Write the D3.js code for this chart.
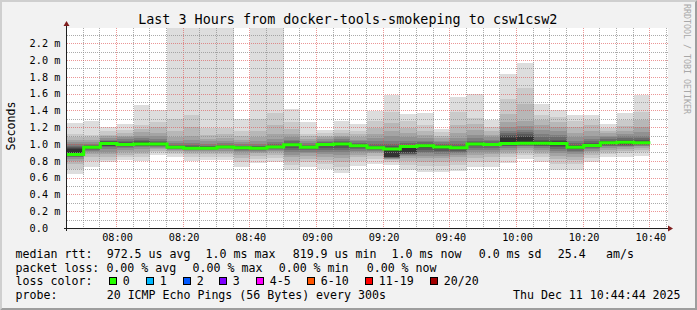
<!DOCTYPE html>
<html><head><meta charset="utf-8">
<script src="https://cdn.jsdelivr.net/npm/d3@7"></script>
<style>
html,body{margin:0;padding:0;background:#f2f2f2;}
svg{display:block;}
text{font-family:"DejaVu Sans Mono",monospace;fill:#000;}
</style>
</head><body>
<svg id="c" width="697" height="310"></svg>
<script>
// ---------------- data ----------------
const title = "Last 3 Hours from docker-tools-smokeping to csw1csw2";
const timeWindow = ["07:45", "10:45"];
const stepMinutes = 5;
const binTimes = ["07:45","07:50","07:55","08:00","08:05","08:10","08:15","08:20","08:25","08:30",
  "08:35","08:40","08:45","08:50","08:55","09:00","09:05","09:10","09:15","09:20",
  "09:25","09:30","09:35","09:40","09:45","09:50","09:55","10:00","10:05","10:10",
  "10:15","10:20","10:25","10:30","10:35"];
// median rtt (ms) per 5-minute bin
const medians = [0.876,0.96,1.005,0.995,1.0,1.0,0.96,0.95,0.95,0.963,0.955,0.95,0.963,0.99,0.96,0.995,1.0,0.98,0.955,0.94,
  0.97,0.98,0.963,0.955,1.0,0.995,1.007,1.01,1.01,1.007,0.96,0.983,1.015,1.02,1.015];
// 20 sorted ping rtts (ms) per bin
const pings = [
  [0.64,0.70,0.76,0.80,0.82,0.84,0.85,0.86,0.87,0.875,0.94,0.95,0.96,0.98,1.00,1.02,1.05,1.08,1.12,1.25],
  [0.72,0.80,0.84,0.88,0.90,0.92,0.93,0.94,0.95,0.955,0.965,0.97,0.98,0.99,1.00,1.02,1.05,1.08,1.11,1.27],
  [0.78,0.81,0.85,0.88,0.91,0.94,0.96,0.97,0.98,0.99,1.01,1.02,1.03,1.04,1.05,1.07,1.09,1.11,1.15,1.20],
  [0.81,0.84,0.87,0.90,0.93,0.95,0.96,0.97,0.98,0.99,1.00,1.01,1.02,1.04,1.06,1.08,1.10,1.13,1.17,1.24],
  [0.80,0.84,0.88,0.91,0.94,0.96,0.97,0.98,0.99,0.995,1.005,1.02,1.03,1.05,1.07,1.10,1.14,1.18,1.23,1.46],
  [0.87,0.90,0.92,0.94,0.95,0.96,0.97,0.98,0.99,0.995,1.005,1.01,1.02,1.04,1.06,1.09,1.13,1.20,1.26,1.41],
  [0.85,0.88,0.90,0.92,0.93,0.94,0.945,0.95,0.955,0.96,0.965,0.97,0.98,0.99,1.01,1.04,1.08,1.15,1.30,2.50],
  [0.80,0.85,0.88,0.90,0.92,0.93,0.94,0.945,0.95,0.95,0.955,0.96,0.97,0.99,1.01,1.05,1.10,1.20,1.35,2.50],
  [0.81,0.85,0.88,0.90,0.92,0.93,0.94,0.945,0.95,0.95,0.955,0.96,0.97,0.98,1.00,1.03,1.06,1.11,1.19,2.50],
  [0.81,0.85,0.88,0.90,0.92,0.94,0.95,0.955,0.96,0.96,0.965,0.97,0.98,0.99,1.01,1.04,1.07,1.12,1.19,2.50],
  [0.72,0.78,0.83,0.87,0.90,0.92,0.93,0.94,0.95,0.955,0.96,0.965,0.97,0.98,1.00,1.02,1.05,1.09,1.15,1.30],
  [0.77,0.82,0.86,0.89,0.91,0.92,0.93,0.94,0.945,0.95,0.955,0.96,0.97,0.98,1.00,1.03,1.08,1.16,1.30,2.50],
  [0.78,0.83,0.87,0.90,0.92,0.93,0.94,0.95,0.955,0.96,0.965,0.97,0.98,1.00,1.02,1.06,1.12,1.22,1.37,2.50],
  [0.69,0.75,0.80,0.84,0.87,0.90,0.93,0.95,0.97,0.985,0.995,1.00,1.01,1.03,1.05,1.08,1.12,1.18,1.26,1.42],
  [0.72,0.78,0.82,0.86,0.89,0.91,0.93,0.94,0.95,0.955,0.965,0.97,0.98,0.99,1.01,1.03,1.06,1.09,1.12,1.26],
  [0.70,0.76,0.81,0.85,0.88,0.91,0.93,0.95,0.97,0.985,1.00,1.005,1.01,1.02,1.04,1.06,1.08,1.10,1.13,1.17],
  [0.65,0.72,0.78,0.83,0.87,0.90,0.93,0.95,0.97,0.99,1.005,1.01,1.02,1.04,1.06,1.08,1.10,1.13,1.17,1.27],
  [0.74,0.80,0.84,0.87,0.90,0.92,0.94,0.95,0.96,0.975,0.985,0.99,1.00,1.01,1.03,1.05,1.08,1.12,1.16,1.24],
  [0.76,0.82,0.86,0.89,0.91,0.92,0.93,0.94,0.945,0.95,0.96,0.965,0.98,1.00,1.03,1.07,1.12,1.19,1.27,1.39],
  [0.75,0.79,0.81,0.82,0.825,0.83,0.835,0.84,0.845,0.85,0.935,0.95,0.97,1.00,1.04,1.09,1.15,1.25,1.38,1.58],
  [0.69,0.75,0.80,0.83,0.86,0.87,0.88,0.885,0.89,0.90,0.965,0.98,0.99,1.01,1.04,1.08,1.13,1.19,1.27,1.36],
  [0.67,0.74,0.79,0.83,0.86,0.89,0.91,0.93,0.95,0.97,0.985,0.99,1.00,1.02,1.04,1.07,1.11,1.16,1.23,1.37],
  [0.67,0.74,0.79,0.83,0.86,0.88,0.90,0.92,0.94,0.955,0.97,0.975,0.99,1.00,1.02,1.04,1.07,1.10,1.14,1.18],
  [0.68,0.75,0.80,0.84,0.87,0.89,0.91,0.92,0.935,0.945,0.96,0.965,0.98,1.00,1.03,1.07,1.13,1.22,1.38,1.56],
  [0.72,0.78,0.83,0.87,0.90,0.93,0.95,0.97,0.985,0.995,1.005,1.01,1.02,1.04,1.07,1.11,1.17,1.24,1.31,1.60],
  [0.73,0.79,0.84,0.88,0.91,0.93,0.95,0.97,0.98,0.99,1.00,1.005,1.01,1.03,1.05,1.08,1.11,1.15,1.20,1.28],
  [0.77,0.84,0.88,0.91,0.93,0.95,0.97,0.98,0.99,1.00,1.07,1.09,1.11,1.13,1.16,1.20,1.26,1.36,1.53,1.83],
  [0.82,0.87,0.90,0.93,0.95,0.97,0.98,0.99,1.00,1.01,1.08,1.10,1.12,1.14,1.17,1.21,1.27,1.47,1.67,1.965],
  [0.78,0.84,0.88,0.91,0.93,0.95,0.97,0.98,0.99,1.00,1.02,1.03,1.05,1.08,1.12,1.17,1.22,1.29,1.35,1.48],
  [0.69,0.76,0.82,0.86,0.89,0.92,0.94,0.96,0.98,0.995,1.02,1.03,1.05,1.08,1.11,1.15,1.20,1.26,1.32,1.40],
  [0.69,0.76,0.81,0.85,0.88,0.90,0.92,0.935,0.945,0.955,0.965,0.975,0.99,1.01,1.04,1.08,1.13,1.20,1.27,1.34],
  [0.78,0.83,0.87,0.90,0.92,0.94,0.95,0.96,0.97,0.98,0.99,1.00,1.01,1.03,1.06,1.10,1.15,1.22,1.28,1.34],
  [0.84,0.88,0.91,0.93,0.95,0.97,0.98,0.99,1.00,1.01,1.02,1.03,1.04,1.06,1.08,1.10,1.13,1.16,1.19,1.24],
  [0.85,0.89,0.92,0.94,0.96,0.97,0.98,0.99,1.00,1.01,1.03,1.04,1.05,1.07,1.09,1.12,1.16,1.21,1.28,1.37],
  [0.86,0.90,0.93,0.95,0.97,0.98,0.99,1.00,1.005,1.01,1.02,1.03,1.05,1.07,1.10,1.14,1.20,1.28,1.38,1.58]
];
const yTickValues = [0,0.2,0.4,0.6,0.8,1.0,1.2,1.4,1.6,1.8,2.0,2.2];
const yTickLabels = ["0.0","0.2 m","0.4 m","0.6 m","0.8 m","1.0 m","1.2 m","1.4 m","1.6 m","1.8 m","2.0 m","2.2 m"];
const xTickLabels = ["08:00","08:20","08:40","09:00","09:20","09:40","10:00","10:20","10:40"];
const yAxisLabel = "Seconds";
const watermark = "RRDTOOL / TOBI OETIKER";
const rttHead = "median rtt:";
const rttItems = ["972.5 us avg","1.0 ms max","819.9 us min","1.0 ms now","0.0 ms sd","25.4","am/s"];
const lossHead = "packet loss:";
const lossItems = ["0.00 % avg","0.00 % max","0.00 % min","0.00 % now"];
const colorHead = "loss color:";
const lossLabels = ["0","1","2","3","4-5","6-10","11-19","20/20"];
const lossColors = ["#26ff00","#00b8ff","#0059ff","#7e00ff","#ff00ff","#ff5500","#ff0000","#a10000"];
const probeHead = "probe:";
const probeText = "20 ICMP Echo Pings (56 Bytes) every 300s";
const stamp = "Thu Dec 11 10:44:44 2025";

// ---------------- layout ----------------
const W = 697, H = 310;
const PL = 67, PR = 667, PT = 28, PB = 228;
const toMin = s => { const [h, m] = s.split(":").map(Number); return h * 60 + m; };

const svg = d3.select("#c");
const x = d3.scaleLinear().domain(timeWindow.map(toMin)).range([PL, PR]);
const y = d3.scaleLinear().domain([0, (PB - PT) / 84.03]).range([PB, PT]);

// background + shading frame
svg.append("rect").attr("width", W).attr("height", H).attr("fill", "#f2f2f2");
svg.append("polygon").attr("points", `0,0 ${W},0 ${W-2},2 2,2 2,${H-2} 0,${H}`).attr("fill", "#cfcfcf");
svg.append("polygon").attr("points", `0,${H} ${W},${H} ${W},0 ${W-2},2 ${W-2},${H-2} 2,${H-2}`).attr("fill", "#9e9e9e");

// canvas
svg.append("rect").attr("x", PL).attr("y", PT).attr("width", PR - PL + 1).attr("height", PB - PT).attr("fill", "#fff");

svg.append("clipPath").attr("id", "plotclip").append("rect")
  .attr("x", PL).attr("y", PT).attr("width", PR - PL + 1).attr("height", PB - PT);

// smoke
const smoke = svg.append("g").attr("clip-path", "url(#plotclip)").attr("shape-rendering", "crispEdges");
const half = 10;
binTimes.forEach((t, i) => {
  const row = pings[i];
  const n = row.length;
  const xa = x(toMin(t)), xb = x(toMin(t) + stepMinutes);
  for (let k = 0; k < n / 2; k++) {
    const ibot = k + 1;
    const c = Math.floor(190 / half * (half - ibot)) + 50;
    const lo = row[k], hi = row[n - 1 - k];
    smoke.append("rect")
      .attr("x", xa).attr("width", xb - xa)
      .attr("y", y(hi)).attr("height", Math.max(0, y(lo) - y(hi)))
      .attr("fill", `rgb(${c},${c},${c})`);
  }
});

// grid (dotted, 1 on / 1 off)
const grid = svg.append("g");
const minorCol = "rgba(143,143,143,0.75)", majorCol = "rgba(222,80,80,0.6)";
const tStart = toMin(timeWindow[0]), tEnd = toMin(timeWindow[1]);
for (let m = tStart + stepMinutes; m <= tEnd; m += stepMinutes) {
  const major = (m % 20 === 0);
  const xx = Math.round(x(m)) - 0.5;
  grid.append("path").attr("d", `M${xx},${PT} V${PB}`)
    .attr("fill", "none").attr("stroke-width", 1)
    .attr("stroke", major ? majorCol : minorCol).attr("stroke-dasharray", "1 1");
}
for (let k = 1; k <= 23; k++) {
  const major = (k % 2 === 0);
  const yy = Math.round(y(k / 10)) + 0.5;
  grid.append("path").attr("d", `M${PL},${yy} H${PR + 1}`)
    .attr("fill", "none").attr("stroke-width", 1)
    .attr("stroke", major ? majorCol : minorCol).attr("stroke-dasharray", "1 1");
}

// median line
const medPts = binTimes.map((t, i) => [x(toMin(t)), y(medians[i])]);
medPts.push([x(toMin(binTimes[binTimes.length - 1]) + stepMinutes), y(medians[medians.length - 1])]);
svg.append("path")
  .attr("d", d3.line().curve(d3.curveStepAfter)(medPts))
  .attr("fill", "none").attr("stroke", lossColors[0]).attr("stroke-width", 3);

// axes lines + arrows
const axisCol = "#1f1f1f", arrowCol = "#801f1f";
svg.append("path").attr("d", `M${PL - 0.5},${PB + 3} V${PT - 3}`).attr("stroke", axisCol).attr("fill", "none");
svg.append("path").attr("d", `M${PL - 3},${PB + 0.5} H${PR + 2}`).attr("stroke", axisCol).attr("fill", "none");
svg.append("polygon").attr("points", `${PL-3.5},${PT-2} ${PL+2.5},${PT-2} ${PL-0.5},${PT-7}`).attr("fill", arrowCol);
svg.append("polygon").attr("points", `${PR+1},${PB-2.5} ${PR+1},${PB+3.5} ${PR+6},${PB+0.5}`).attr("fill", arrowCol);

// y tick labels
const yAx = svg.append("g").attr("transform", `translate(${PL},0)`)
  .call(d3.axisLeft(y).tickValues(yTickValues).tickSize(0)
    .tickFormat((d, i) => yTickLabels[i]));
yAx.select(".domain").remove();
yAx.selectAll("line").remove();
yAx.selectAll("text").attr("font-family", "DejaVu Sans Mono").attr("font-size", "10.2px")
  .attr("fill", "#000").attr("text-anchor", "start").attr("x", 29.6 - PL).attr("dy", "0.33em");

// x tick labels
const xAx = svg.append("g").attr("transform", `translate(0,${PB})`)
  .call(d3.axisBottom(x).tickValues(xTickLabels.map(toMin)).tickSize(0).tickPadding(5.4)
    .tickFormat((d, i) => xTickLabels[i]));
xAx.select(".domain").remove();
xAx.selectAll("line").remove();
xAx.selectAll("text").attr("font-family", "DejaVu Sans Mono").attr("font-size", "10.2px").attr("fill", "#000");

// title
svg.append("text").attr("x", 347.8).attr("y", 24).attr("text-anchor", "middle")
  .attr("font-size", "13.4px").text(title);

// y label
svg.append("text").attr("transform", "translate(15,126) rotate(-90)").attr("text-anchor", "middle")
  .attr("font-size", "11.6px").text(yAxisLabel);

// watermark
svg.append("text").attr("transform", "translate(684,59) rotate(90)").attr("text-anchor", "middle")
  .attr("font-size", "8.3px").style("fill", "#a8a8a8").text(watermark);

// legend
const fs = "11.6px";
const L = [257.7, 271.5, 285.3, 299.1];
const put = (tx, xx, yy) => svg.append("text").attr("x", xx).attr("y", yy).attr("font-size", fs).text(tx);
put(rttHead, 15.6, L[0]);
[106.7, 205.6, 292.7, 391.6, 478.7, 557.7, 606].forEach((xx, i) => put(rttItems[i], xx, L[0]));
put(lossHead, 15.6, L[1]);
[106.4, 192.6, 278.7, 366.7].forEach((xx, i) => put(lossItems[i], xx, L[1]));
put(colorHead, 15.6, L[2]);
[109, 146, 182.7, 219.3, 255.7, 307.3, 365, 430].forEach((xx, i) => {
  svg.append("rect").attr("x", Math.round(xx) + 0.5).attr("y", 277.5).attr("width", 7).attr("height", 7)
    .attr("fill", lossColors[i]).attr("stroke", "#000").attr("stroke-width", 1);
  put(lossLabels[i], Math.round(xx) + 13.8, L[2]);
});
put(probeHead, 15.6, L[3]);
put(probeText, 106.7, L[3]);
put(stamp, 513, L[3]);
</script>
</body></html>
